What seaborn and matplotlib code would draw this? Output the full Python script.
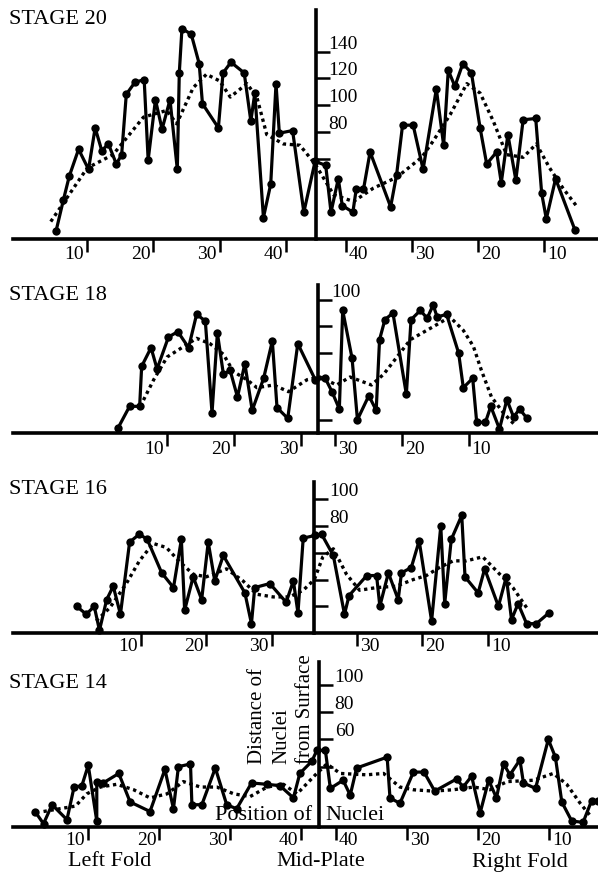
import matplotlib
matplotlib.use("Agg")
import matplotlib.pyplot as plt
import matplotlib.transforms as mtransforms
import seaborn as sns

sns.set_theme(style="white")
plt.rcParams["font.family"] = ["Liberation Serif", "DejaVu Serif"]
plt.rcParams["text.color"] = "black"

# %% data: position of nuclei along the plate (left fold -> mid-plate -> right fold)
# and distance of nuclei from surface. "avg" = the dotted running mean.

# stage 20
s20_pos = [5.3, 6.4, 7.3, 8.7, 10.2, 11.2, 12.2, 13.2, 14.4, 15.2, 15.9, 17.2, 18.6, 19.2,
           20.3, 21.3, 22.5, 23.6, 23.9, 24.3, 25.7, 26.9, 27.4, 29.8, 30.5, 31.7, 33.7,
           34.7, 35.3, 36.6, 37.7, 38.5, 39.0, 41.0, 42.7, 44.4, 46.0, 46.8, 47.9, 48.5,
           50.1, 50.6, 51.7, 52.7, 55.8, 56.7, 57.6, 59.2, 60.7, 62.7, 63.8, 64.5, 65.5,
           66.7, 68.0, 69.3, 70.3, 71.8, 72.5, 73.5, 74.7, 75.8, 77.7, 78.6, 79.3, 80.7, 83.6]
s20_dist = [6, 29, 47, 67, 52, 83, 66, 71, 56, 63, 108, 117, 119, 59,
            104, 82, 104, 52, 124, 157, 153, 131, 101, 83, 124, 132, 124,
            88, 109, 16, 41, 116, 79, 81, 20, 58, 55, 20, 45, 25,
            20, 37, 37, 65, 24, 48, 85, 85, 52, 112, 70, 126, 114,
            131, 124, 83, 56, 65, 42, 78, 44, 89, 90, 34, 15, 45, 7]
s20_avg_pos = [4.5, 10, 13.9, 18.5, 22, 23.5, 26, 28, 30, 31.6, 34.1, 35.6, 37.1, 39.6,
               42.1, 44.4, 47.2, 50.2, 53.2, 56.7, 60.5, 62.2, 64.8, 67.3, 69.3, 71.3,
               73.3, 75.8, 77.8, 79.8, 81.8, 83.8]
s20_avg_dist = [13, 53, 63, 91, 96, 86, 113, 123, 118, 106, 116, 106, 78, 71,
                70, 56, 33, 28, 38, 46, 61, 73, 93, 116, 109, 88,
                63, 61, 71, 53, 38, 25]

# stage 18
s18_pos = [2.7, 4.4, 5.9, 6.2, 7.6, 8.5, 10.2, 11.6, 13.2, 14.4, 15.7, 16.7, 17.5, 18.4,
           19.4, 20.5, 21.6, 22.7, 24.4, 25.7, 26.4, 28.0, 29.5, 32.1, 33.6, 34.6, 35.7,
           36.2, 37.6, 38.4, 40.1, 41.2, 41.7, 42.5, 43.7, 45.7, 46.4, 47.8, 48.8, 49.7,
           50.3, 51.7, 53.5, 54.2, 55.6, 56.2, 57.5, 58.3, 59.6, 60.7, 61.7, 62.6, 63.7]
s18_dist = [4, 20, 20, 50, 64, 48, 72, 76, 64, 89, 84, 15, 75, 44,
            47, 27, 52, 17, 41, 69, 19, 11, 67, 40, 41, 31, 18,
            92, 56, 10, 28, 17, 70, 85, 90, 29, 85, 92, 86, 96,
            87, 89, 60, 34, 41, 8, 8, 20, 3, 25, 12, 18, 11]
s18_avg_pos = [6.0, 8, 10, 12.2, 14.4, 16.4, 18.4, 19.9, 21.9, 23.4, 25.9, 28.1, 30.9,
               32.8, 35.3, 37.3, 40.5, 42.3, 44.3, 46.3, 49.8, 52.2, 54.2, 55.7, 56.9,
               58.4, 60.2, 61.7]
s18_avg_dist = [20, 40, 57, 64, 71, 67, 59, 46, 40, 34, 36, 31, 40,
                42, 36, 42, 36, 44, 57, 70, 80, 87, 77, 65, 47,
                27, 15, 7]

# stage 16
s16_pos = [0.2, 1.7, 2.9, 3.7, 4.8, 5.8, 6.9, 8.3, 9.8, 11.0, 13.2, 15.0, 16.2, 16.7,
           18.0, 19.3, 20.3, 21.3, 22.6, 25.9, 26.9, 27.4, 29.7, 32.2, 33.3, 34.0, 34.8,
           36.6, 37.6, 39.4, 41.1, 41.8, 44.5, 46.0, 46.5, 47.8, 49.3, 49.8, 51.3, 52.5,
           54.4, 55.8, 56.4, 57.4, 59.0, 59.5, 61.5, 62.5, 64.6, 65.8, 66.6, 67.6, 68.9,
           70.4, 72.3]
s16_dist = [20, 14, 20, 2, 25, 35, 14, 68, 74, 70, 45, 34, 70, 17,
            42, 25, 68, 39, 58, 30, 7, 34, 37, 23, 39, 15, 71,
            73, 74, 58, 14, 28, 43, 43, 20, 45, 25, 45, 49, 69,
            9, 80, 22, 70, 88, 42, 30, 48, 20, 42, 10, 22, 7,
            7, 15]
s16_avg_pos = [3.2, 5.3, 7.8, 9.8, 11.9, 13.9, 16, 18, 20, 23.1, 25.6, 27.7, 30.2, 32.7,
               34.8, 36.5, 37.8, 39.4, 41.4, 43.4, 46, 49, 51.6, 53.6, 55.6, 57.7, 59.7,
               62.2, 64.8, 66.8, 68.9]
s16_avg_dist = [9, 19, 37, 54, 67, 64, 53, 44, 42, 48, 39, 29, 27, 27,
                32, 40, 57, 63, 44, 32, 34, 35, 40, 43, 49, 54, 54,
                57, 44, 34, 19]

# stage 14
s14_pos = [2.5, 3.7, 4.9, 7.0, 8.0, 9.1, 10.0, 11.2, 11.2, 12.1, 14.3, 15.9, 18.7, 20.8,
           22.0, 22.7, 24.4, 24.6, 26.0, 27.9, 29.5, 30.9, 33.0, 35.2, 37.0, 38.9, 39.8,
           41.5, 42.2, 43.4, 44.1, 45.9, 46.9, 47.8, 52.1, 52.5, 53.9, 55.8, 57.3, 58.8,
           61.9, 62.8, 64.0, 65.2, 66.4, 67.5, 68.5, 69.4, 70.8, 71.3, 73.0, 74.8, 75.8,
           76.7, 78.1, 79.7, 80.9, 81.8]
s14_dist = [7, -2, 12, 1, 25, 26, 41, 0, 29, 28, 35, 14, 7, 38,
            9, 40, 42, 12, 12, 39, 12, 9, 28, 27, 26, 17, 35,
            44, 52, 52, 24, 30, 19, 39, 47, 17, 13, 36, 36, 22,
            31, 25, 33, 6, 30, 17, 42, 34, 45, 28, 24, 60, 47,
            14, 0, -1, 15, 15]
s14_avg_pos = [3.7, 8.2, 9.8, 11.7, 14.0, 16.4, 18.7, 21.1, 23.4, 25.8, 28.1, 30.5, 32.8,
               35.2, 37.5, 39.4, 42, 43.6, 45.5, 49.2, 51.6, 53.9, 55.8, 58.6, 61.4, 64.3,
               66.6, 69, 72.7, 75.5, 77.4, 79.3, 80.7]
s14_avg_dist = [7, 11, 20, 25, 27, 23, 17, 20, 29, 25, 25, 20, 18,
                25, 27, 20, 34, 42, 35, 34, 35, 25, 23, 22, 23, 25,
                23, 29, 30, 35, 27, 13, 4]

# axis ticks: left fold counts up to the mid-plate, right fold counts down from it
s20_left_ticks, s20_right_ticks = [10, 20, 30, 40], [40, 30, 20, 10]
s18_left_ticks, s18_right_ticks = [10, 20, 30], [30, 20, 10]
s16_left_ticks, s16_right_ticks = [10, 20, 30], [30, 20, 10]
s14_left_ticks, s14_right_ticks = [10, 20, 30, 40], [40, 30, 20, 10]

s20_yticks, s20_ylabels = [140, 120, 100, 80, 60], [140, 120, 100, 80]
s18_yticks, s18_ylabels = [100, 80, 60, 10], [100]
s16_yticks, s16_ylabels = [100, 80, 60, 40, 20], [100, 80]
s14_yticks, s14_ylabels = [100, 80, 60, 40], [100, 80, 60]

ylabel_lines = ["Distance of", "Nuclei", "from Surface"]

# %% layout
W, H = 598, 874
fig = plt.figure(figsize=(W / 100, H / 100), dpi=100)

panels = [
    dict(title="STAGE 20", ty=19, top=10, bottom=239, ylim=(0, 171), xlim=(-1.2, 87.1), mid=44.5,
         x=s20_pos, y=s20_dist, ax_=s20_avg_pos, ay=s20_avg_dist,
         lt=s20_left_ticks, rt=s20_right_ticks, yt=s20_yticks, yl=s20_ylabels, ydx=12, xdy=7),
    dict(title="STAGE 18", ty=295, top=285, bottom=433, ylim=(0, 111), xlim=(-13, 74.3), mid=32.5,
         x=s18_pos, y=s18_dist, ax_=s18_avg_pos, ay=s18_avg_dist,
         lt=s18_left_ticks, rt=s18_right_ticks, yt=s18_yticks, yl=s18_ylabels, ydx=13, xdy=8),
    dict(title="STAGE 16", ty=489, top=482, bottom=633, ylim=(0, 113), xlim=(-9.5, 79.8), mid=36.5,
         x=s16_pos, y=s16_dist, ax_=s16_avg_pos, ay=s16_avg_dist,
         lt=s16_left_ticks, rt=s16_right_ticks, yt=s16_yticks, yl=s16_ylabels, ydx=15, xdy=5),
    dict(title="STAGE 14", ty=684, top=662, bottom=827, ylim=(-4.4, 117), xlim=(-0.6, 81.8), mid=42.45,
         x=s14_pos, y=s14_dist, ax_=s14_avg_pos, ay=s14_avg_dist,
         lt=s14_left_ticks, rt=s14_right_ticks, yt=s14_yticks, yl=s14_ylabels, ydx=16, xdy=5),
]

tick_fs = 14
for p in panels:
    ax = fig.add_axes([13 / W, 1 - p["bottom"] / H, (W - 13) / W, (p["bottom"] - p["top"]) / H])
    ax.patch.set_alpha(0)

    sns.lineplot(x=p["x"], y=p["y"], sort=False, estimator=None, color="black", lw=2.3,
                 marker="o", markersize=6, markeredgewidth=0, clip_on=False, ax=ax)
    sns.lineplot(x=p["ax_"], y=p["ay"], sort=False, estimator=None, color="black", lw=2.4,
                 linestyle=(0, (1, 1.1)), ax=ax)

    ax.set_xlim(*p["xlim"])
    ax.set_ylim(*p["ylim"])
    for s in ["top", "left"]:
        ax.spines[s].set_visible(False)
    ax.spines["bottom"].set_linewidth(2.6)
    ax.spines["right"].set_linewidth(2.6)
    ax.spines["right"].set_position(("data", p["mid"]))
    for s in ["bottom", "right"]:
        ax.spines[s].set_color("black")

    right_pos = [2 * p["mid"] - t for t in p["rt"]]
    ax.set_xticks(p["lt"] + right_pos)
    ax.yaxis.set_ticks_position("right")
    ax.set_yticks(p["yt"])
    ax.tick_params(axis="x", direction="out", length=9, width=1.8, color="black",
                   bottom=True, labelbottom=False)
    ax.tick_params(axis="y", direction="out", length=10, width=1.8, color="black",
                   right=True, labelright=False, labelleft=False)
    ax.set_xlabel("")
    ax.set_ylabel("")

    xtrans = mtransforms.blended_transform_factory(ax.transData, ax.transAxes)
    off_l = mtransforms.ScaledTranslation(-0.03, -p["xdy"] / 100, fig.dpi_scale_trans)
    off_r = mtransforms.ScaledTranslation(0.03, -p["xdy"] / 100, fig.dpi_scale_trans)
    for t in p["lt"]:
        ax.text(t, 0, str(t), transform=xtrans + off_l, ha="right", va="top", fontsize=tick_fs)
    for t, pos in zip(p["rt"], right_pos):
        ax.text(pos, 0, str(t), transform=xtrans + off_r, ha="left", va="top", fontsize=tick_fs)

    off_y = mtransforms.ScaledTranslation(p["ydx"] / 100, -0.01, fig.dpi_scale_trans)
    for t in p["yl"]:
        ax.text(p["mid"], t, str(t), transform=ax.transData + off_y, ha="left", va="bottom",
                fontsize=tick_fs)

    fig.text(9 / W, 1 - p["ty"] / H, p["title"], ha="left", va="center", fontsize=16)

# axis titles (rotated y title, one column per line, bottom aligned)
for i, line in enumerate(ylabel_lines):
    fig.text((258 + 23.5 * i) / W, 1 - 764 / H, line, rotation=90,
             ha="center", va="bottom", fontsize=15)
fig.text(312 / W, 1 - 816 / H, "Position of", ha="right", va="center", fontsize=16)
fig.text(325 / W, 1 - 816 / H, "Nuclei", ha="left", va="center", fontsize=16)
fig.text(110 / W, 1 - 862 / H, "Left Fold", ha="center", va="center", fontsize=16)
fig.text(321 / W, 1 - 862 / H, "Mid-Plate", ha="center", va="center", fontsize=16)
fig.text(520 / W, 1 - 862 / H, "Right Fold", ha="center", va="center", fontsize=16)

fig.savefig("out.png", dpi=100, facecolor="white")
